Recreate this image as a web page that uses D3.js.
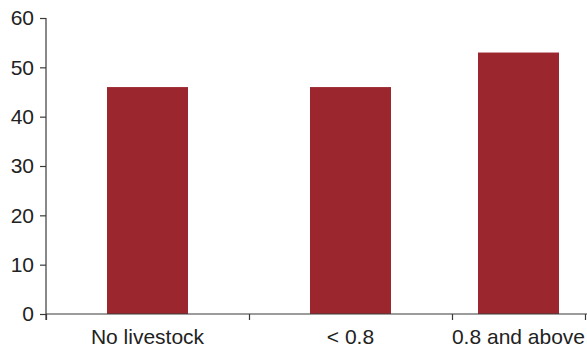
<!DOCTYPE html>
<html>
<head>
<meta charset="utf-8">
<script src="https://cdn.jsdelivr.net/npm/d3@7"></script>
<style>
  body { margin: 0; background: #fff; }
  svg { display: block; font-family: "Liberation Sans", Arial, sans-serif; }
</style>
</head>
<body>
<svg width="587" height="347"></svg>
<script>
// data
var categories = ["No livestock", "< 0.8", "0.8 and above"];
var values = [46, 46, 53];
var yTicks = [0, 10, 20, 30, 40, 50, 60];

var svg = d3.select("svg"),
    width = +svg.attr("width"),
    height = +svg.attr("height");

var barColor = "#9b262e";
var axisColor = "#3a3a3a";

// the original chart is cropped on the right, so the last band is narrower
var x = d3.scaleLinear()
    .domain([0, 1, 2, 3])
    .range([46, 249, 452, 585]);

var y = d3.scaleLinear()
    .domain([0, 60])
    .range([314, 18]);

var barWidth = 81;

svg.append("g")
    .attr("class", "bars")
  .selectAll("rect")
  .data(values)
  .enter().append("rect")
    .attr("x", function(d, i) { return (x(i) + x(i + 1)) / 2 - barWidth / 2; })
    .attr("y", function(d) { return y(d); })
    .attr("width", barWidth)
    .attr("height", function(d) { return y(0) - y(d); })
    .attr("fill", barColor);

// y axis
var yAxis = svg.append("g")
    .attr("transform", "translate(" + x(0) + ",0)")
    .call(d3.axisLeft(y).tickValues(yTicks).tickSize(6).tickPadding(6));

// x axis: ticks on band edges, labels centered in bands
var xAxis = svg.append("g")
    .attr("transform", "translate(0," + y(0) + ")")
    .call(d3.axisBottom(x).tickValues([0, 1, 2, 3]).tickSize(6).tickFormat(""));

xAxis.select(".domain").attr("d", "M" + x(0) + ",0H" + width);

svg.selectAll(".domain, .tick line")
    .attr("stroke", axisColor)
    .attr("stroke-width", 1.2);

yAxis.select(".domain").attr("d", "M0," + y(60) + "V" + (y(0) + 6));

yAxis.selectAll("text")
    .attr("font-size", 21)
    .attr("font-family", "Liberation Sans, Arial, sans-serif")
    .attr("fill", "#222");

svg.append("g")
    .attr("class", "xlabels")
  .selectAll("text")
  .data(categories)
  .enter().append("text")
    .attr("x", function(d, i) { return (x(i) + x(i + 1)) / 2; })
    .attr("y", 344)
    .attr("text-anchor", "middle")
    .attr("font-size", 21)
    .attr("fill", "#222")
    .text(function(d) { return d; });
</script>
</body>
</html>
